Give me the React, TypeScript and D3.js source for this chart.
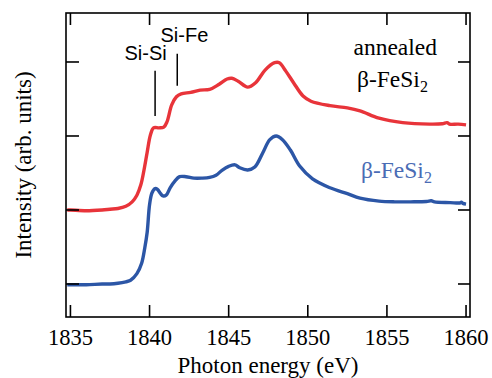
import React from "react";
import * as d3 from "d3";

const blueE = [1834.8, 1835, 1836, 1837, 1837.5, 1838, 1838.5, 1838.8, 1839.2, 1839.5, 1839.7, 1839.85, 1840.0, 1840.15, 1840.35, 1840.5, 1840.7, 1840.85, 1841.05, 1841.3, 1841.6, 1841.9, 1842.3, 1842.8, 1843.3, 1843.8, 1844.2, 1844.6, 1845.0, 1845.4, 1845.7, 1846.2, 1846.65, 1847.15, 1847.6, 1848.0, 1848.4, 1848.9, 1849.5, 1850.3, 1851.4, 1852.5, 1853.3, 1854.5, 1855.5, 1856.5, 1857.5, 1857.8, 1858.0, 1859.0, 1859.6, 1859.7, 1859.8, 1860.0];
const blueI = [-0.01, -0.01, -0.01, 0, 0, 0.01, 0.03, 0.05, 0.14, 0.28, 0.49, 0.7, 1.07, 1.23, 1.29, 1.28, 1.22, 1.19, 1.2, 1.3, 1.39, 1.45, 1.45, 1.43, 1.43, 1.44, 1.47, 1.54, 1.59, 1.61, 1.57, 1.54, 1.58, 1.77, 1.95, 2.0, 1.95, 1.81, 1.59, 1.42, 1.3, 1.22, 1.16, 1.12, 1.11, 1.11, 1.115, 1.125, 1.11, 1.1, 1.095, 1.105, 1.09, 1.08];

const redE = [1834.8, 1835, 1836, 1837, 1837.5, 1838, 1838.5, 1838.9, 1839.2, 1839.45, 1839.65, 1839.85, 1840.05, 1840.25, 1840.6, 1840.9, 1841.1, 1841.4, 1841.7, 1842.0, 1842.6, 1843.2, 1843.8, 1844.4, 1844.9, 1845.2, 1845.6, 1846.2, 1846.7, 1847.3, 1847.9, 1848.2, 1848.6, 1849.1, 1849.7, 1850.2, 1851.4, 1852.5, 1853.3, 1854.5, 1856.0, 1857.7, 1858.5, 1858.8, 1858.95, 1859.5, 1860.0];
const redI = [1.0, 1.0, 0.99, 1.0, 1.01, 1.02, 1.05, 1.11, 1.2, 1.34, 1.54, 1.78, 2.01, 2.11, 2.11, 2.12, 2.19, 2.42, 2.53, 2.57, 2.59, 2.62, 2.63, 2.7, 2.77, 2.78, 2.74, 2.66, 2.72, 2.89, 2.99, 2.99, 2.88, 2.72, 2.54, 2.47, 2.41, 2.38, 2.34, 2.24, 2.18, 2.16, 2.165, 2.18, 2.16, 2.16, 2.15];

const xTicks = [1835, 1840, 1845, 1850, 1855, 1860];
const yTicks = [0, 1, 2, 3];

const annotations = [
  { label: "Si-Si", energy: 1840.35, textE: 1839.75, textY: 3.03, y1: 2.88, y2: 2.27 },
  { label: "Si-Fe", energy: 1841.75, textE: 1842.2, textY: 3.27, y1: 3.11, y2: 2.68 },
];

const W = 492, H = 378;
const L = 66, R = 470, T = 13, B = 317;

export default function App() {
  const x = d3.scaleLinear().domain([1834.72, 1860.25]).range([L, R]);
  const y = d3.scaleLinear().domain([-0.446, 3.662]).range([B, T]);
  const line = d3
    .line<[number, number]>()
    .x((d) => x(d[0]))
    .y((d) => y(d[1]))
    .curve(d3.curveCatmullRom.alpha(0.5));
  const blue = line(blueE.map((e, i) => [e, blueI[i]]) as [number, number][]) || "";
  const red = line(redE.map((e, i) => [e, redI[i]]) as [number, number][]) || "";
  const serif = "'Liberation Serif', 'Times New Roman', serif";
  const sans = "'Liberation Sans', Arial, sans-serif";
  const tickLen = 12;
  return (
    <svg width={W} height={H} style={{ position: "absolute", left: 0, top: 0, background: "#fff" }}>
      <rect x={0} y={0} width={W} height={H} fill="#fff" />
      <path d={red} fill="none" stroke="#e8343a" strokeWidth={3.4} strokeLinejoin="round" />
      <path d={blue} fill="none" stroke="#2c56a6" strokeWidth={3.4} strokeLinejoin="round" />
      <rect x={L} y={T} width={R - L} height={B - T} fill="none" stroke="#000" strokeWidth={1.6} />
      {xTicks.map((t) => (
        <g key={"x" + t}>
          <line x1={x(t)} x2={x(t)} y1={B} y2={B - tickLen} stroke="#000" strokeWidth={1.6} />
          <line x1={x(t)} x2={x(t)} y1={T} y2={T + tickLen} stroke="#000" strokeWidth={1.6} />
          <text x={x(t)} y={345} textAnchor="middle" fontFamily={serif} fontSize={22.5} fill="#000">
            {t}
          </text>
        </g>
      ))}
      {yTicks.map((t) => (
        <g key={"y" + t}>
          <line x1={L} x2={L + tickLen + 1} y1={y(t)} y2={y(t)} stroke="#000" strokeWidth={1.6} />
          <line x1={R} x2={R - tickLen} y1={y(t)} y2={y(t)} stroke="#000" strokeWidth={1.6} />
        </g>
      ))}
      <text x={(L + R) / 2} y={373} textAnchor="middle" fontFamily={serif} fontSize={23} fill="#000">
        Photon energy (eV)
      </text>
      <text
        transform={`translate(31, ${(T + B) / 2}) rotate(-90)`}
        textAnchor="middle"
        fontFamily={serif}
        fontSize={23}
        fill="#000"
      >
        Intensity (arb. units)
      </text>
      {annotations.map((a) => (
        <g key={a.label}>
          <line x1={x(a.energy)} x2={x(a.energy)} y1={y(a.y1)} y2={y(a.y2)} stroke="#000" strokeWidth={1.5} />
          <text x={x(a.textE)} y={y(a.textY)} textAnchor="middle" fontFamily={sans} fontSize={20} fill="#000">
            {a.label}
          </text>
        </g>
      ))}
      <text x={437} y={55} textAnchor="end" fontFamily={serif} fontSize={23.5} fill="#000">
        annealed
      </text>
      <text x={357} y={87} fontFamily={serif} fontSize={23.5} fill="#000">
        β-FeSi<tspan fontSize={16} dy={5}>2</tspan>
      </text>
      <text x={361} y={178} fontFamily={serif} fontSize={23.5} fill="#4a6cb5">
        β-FeSi<tspan fontSize={16} dy={5}>2</tspan>
      </text>
    </svg>
  );
}
